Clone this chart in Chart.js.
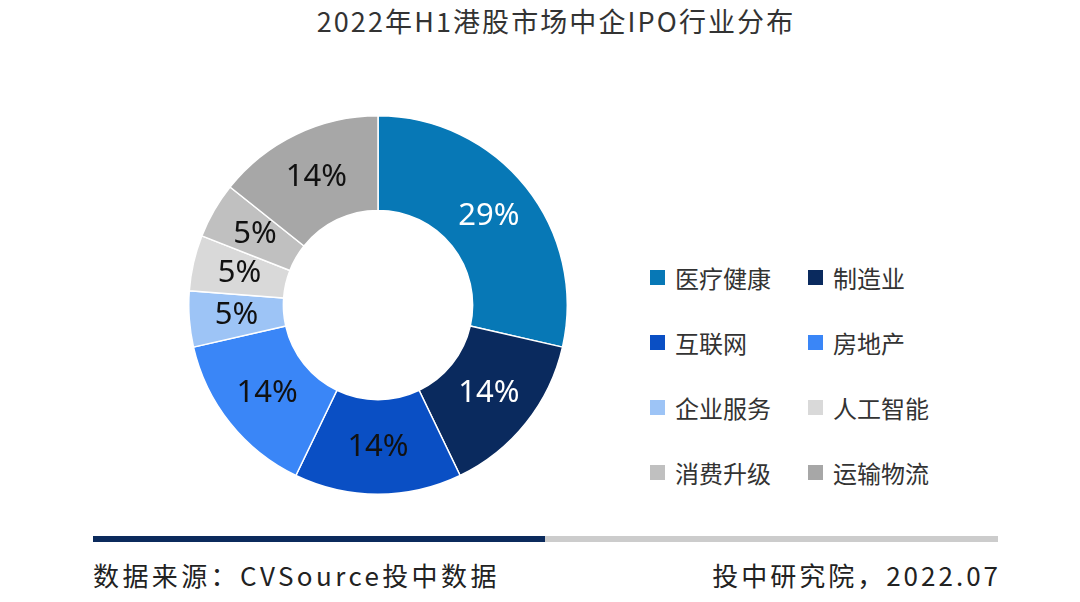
<!DOCTYPE html>
<html>
<head>
<meta charset="utf-8">
<script src="https://cdn.jsdelivr.net/npm/chart.js@4/dist/chart.umd.min.js"></script>
<style>
  body { margin: 0; width: 1080px; height: 602px; background: #fff; position: relative; overflow: hidden;
         font-family: "Noto Sans CJK SC", "Noto Sans", sans-serif; color: #333; }
  #title { position: absolute; top: 1px; left: 0; width: 1112px; text-align: center; font-size: 27px; letter-spacing: 2.1px; color: #333; }
  #wrap { position: absolute; left: 188px; top: 115px; width: 380px; height: 380px; }
  #legend { position: absolute; left: 650px; top: 260px; width: 340px; }
  .item { position: absolute; display: flex; align-items: center; font-size: 24px; color: #333; white-space: nowrap; }
  .box { width: 15px; height: 15px; margin-right: 10px; }
  #bar1 { position: absolute; left: 93px; top: 536px; width: 452px; height: 6px; background: #0b2a5c; }
  #bar2 { position: absolute; left: 545px; top: 536px; width: 453px; height: 6px; background: #cccccc; }
  #src { position: absolute; left: 93px; top: 556px; font-size: 26px; letter-spacing: 3.4px; color: #222; }
  #date { position: absolute; right: 79px; top: 556px; font-size: 26px; letter-spacing: 3px; color: #222; }
</style>
</head>
<body>
<div id="title">2022年H1港股市场中企IPO行业分布</div>
<div id="wrap"><canvas id="pie"></canvas></div>
<div id="legend"></div>
<div id="bar1"></div><div id="bar2"></div>
<div id="src">数据来源：CVSource投中数据</div>
<div id="date">投中研究院，2022.07</div>
<script>
const categories = ['医疗健康', '制造业', '互联网', '房地产', '企业服务', '人工智能', '消费升级', '运输物流'];
const counts = [6, 3, 3, 3, 1, 1, 1, 3];
const colors = ['#0778b6', '#0a2a5e', '#0a4fc4', '#3a86f7', '#9dc4f6', '#d9d9d9', '#c0c0c0', '#a7a7a7'];
const labelColors = ['#ffffff', '#ffffff', '#111111', '#111111', '#111111', '#111111', '#111111', '#111111'];

// legend, two columns
const legend = document.getElementById('legend');
categories.forEach((name, i) => {
  const el = document.createElement('div');
  el.className = 'item';
  el.style.left = (i % 2 === 0 ? 0 : 158) + 'px';
  el.style.top = (Math.floor(i / 2) * 65) + 'px';
  el.innerHTML = '<span class="box" style="background:' + colors[i] + '"></span>' + name;
  legend.appendChild(el);
});

const pctLabels = {
  id: 'pctLabels',
  afterDatasetsDraw(chart) {
    const ctx = chart.ctx;
    const data = chart.data.datasets[0].data;
    const total = data.reduce((a, b) => a + b, 0);
    chart.getDatasetMeta(0).data.forEach((arc, i) => {
      const p = arc.tooltipPosition();
      ctx.save();
      ctx.font = '31px "Noto Sans", "DejaVu Sans", sans-serif';
      ctx.fillStyle = labelColors[i];
      ctx.textAlign = 'center';
      ctx.textBaseline = 'middle';
      ctx.fillText(Math.round(data[i] / total * 100) + '%', p.x, p.y);
      ctx.restore();
    });
  }
};

new Chart(document.getElementById('pie'), {
  type: 'doughnut',
  data: {
    labels: categories,
    datasets: [{ data: counts, backgroundColor: colors, borderColor: '#ffffff', borderWidth: 1.5 }]
  },
  options: {
    responsive: true,
    maintainAspectRatio: false,
    animation: false,
    cutout: '50%',
    layout: { padding: 0 },
    plugins: { legend: { display: false }, tooltip: { enabled: false } }
  },
  plugins: [pctLabels]
});
</script>
</body>
</html>
